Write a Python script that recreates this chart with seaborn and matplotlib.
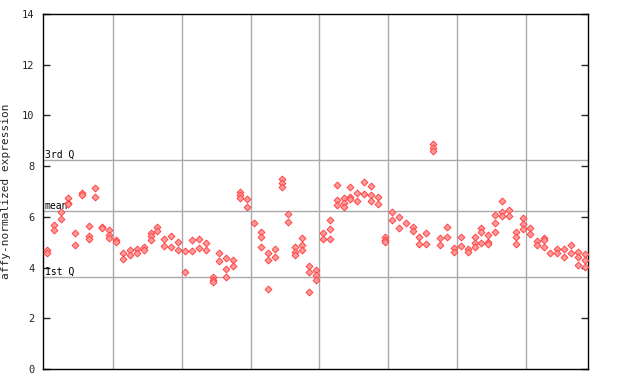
import matplotlib
matplotlib.use("Agg")
import matplotlib.pyplot as plt
import seaborn as sns
import pandas as pd

# expression values per sample (replicates)
samples = [
    [4.69, 4.59], [5.68, 5.5], [6.2, 5.9], [6.74, 6.55, 6.5], [5.36, 4.89],
    [6.94, 6.85], [5.64, 5.24, 5.13], [7.14, 6.78], [5.6, 5.55], [5.5, 5.3, 5.15],
    [5.08, 5.0], [4.57, 4.33], [4.69, 4.5], [4.73, 4.57], [4.8, 4.69],
    [5.36, 5.25, 5.08], [5.6, 5.44], [5.13, 4.85], [5.24, 4.8], [5.0, 4.69],
    [4.65, 3.84], [5.08, 4.65], [5.13, 4.77], [4.97, 4.69], [3.63, 3.5, 3.43],
    [4.57, 4.26], [4.38, 3.94, 3.63], [4.3, 4.06], [6.98, 6.86, 6.74], [6.7, 6.39],
    [5.76], [5.4, 5.2, 4.8], [4.57, 4.3, 3.15], [4.73, 4.42], [7.49, 7.33, 7.18],
    [6.11, 5.8], [4.8, 4.6, 4.5], [5.17, 4.89, 4.69], [4.06, 3.82, 3.04], [3.9, 3.7, 3.5],
    [5.36, 5.13], [5.88, 5.52, 5.13], [7.26, 6.66, 6.47], [6.74, 6.55, 6.39], [7.18, 6.78, 6.7],
    [6.94, 6.62], [7.37, 6.9], [7.22, 6.86, 6.62], [6.78, 6.5], [5.2, 5.08, 5.0],
    [6.19, 5.88], [5.99, 5.56], [5.76], [5.6, 5.44], [5.2, 4.93],
    [5.36, 4.93], [8.87, 8.73, 8.6], [5.17, 4.89], [5.6, 5.2], [4.77, 4.61],
    [5.2, 4.85], [4.73, 4.61], [5.2, 4.97, 4.8], [5.56, 5.4, 4.97], [5.28, 5.0, 4.93],
    [6.07, 5.76, 5.4], [6.62, 6.19, 6.03], [6.27, 6.03], [5.4, 5.2, 4.93], [5.95, 5.72, 5.52],
    [5.56, 5.32], [5.05, 4.89], [5.17, 5.08, 4.8], [4.57], [4.73, 4.57],
    [4.73, 4.42], [4.89, 4.57], [4.61, 4.42, 4.1], [4.53, 4.3, 4.02],
]
quartile_values = [3.63, 6.23, 8.23]
quartile_labels = ["1st Q", "mean", "3rd Q"]
yticks = [0, 2, 4, 6, 8, 10, 12, 14]

rows = []
for i, vals in enumerate(samples):
    for v in vals:
        rows.append({"sample": i, "value": v})
df = pd.DataFrame(rows)

sns.set_style("white")
plt.rcParams["font.family"] = ["DejaVu Sans Mono", "DejaVu Sans"]

fig = plt.figure(figsize=(6.4, 3.84), dpi=100)
ax = fig.add_axes([43 / 640, 1 - 369 / 384, (588 - 43) / 640, (369 - 14) / 384])

n = len(samples)
for b in range(9, n - 1, 10):
    ax.axvline(b + 0.5, color="#aaaaaa", lw=1, zorder=0)
for qv, ql in zip(quartile_values, quartile_labels):
    ax.axhline(qv, color="#aaaaaa", lw=1, zorder=0)
    ax.text(0.003, qv + 0.02, ql, transform=ax.get_yaxis_transform(),
            fontsize=7, ha="left", va="bottom", color="#000000")

sns.scatterplot(data=df, x="sample", y="value", ax=ax, marker="D", s=12,
                color="#ff9a9a", edgecolor="#ff4444", linewidth=0.7, zorder=3)

ax.set_xlim(-0.6, n - 0.55)
ax.set_ylim(0, 14)
ax.set_yticks(yticks)
ax.set_yticklabels([str(t) for t in yticks], fontsize=7.5)
ax.set_xticks([])
ax.tick_params(axis="y", direction="in", length=5, width=1, left=True, right=True, pad=6)
ax.set_xlabel("")
ax.set_ylabel("affy-normalized expression", fontsize=8)
ax.yaxis.set_label_coords(-0.058, 0.5)
for s in ax.spines.values():
    s.set_color("black")
    s.set_linewidth(1)

fig.savefig("out.png", dpi=100)
